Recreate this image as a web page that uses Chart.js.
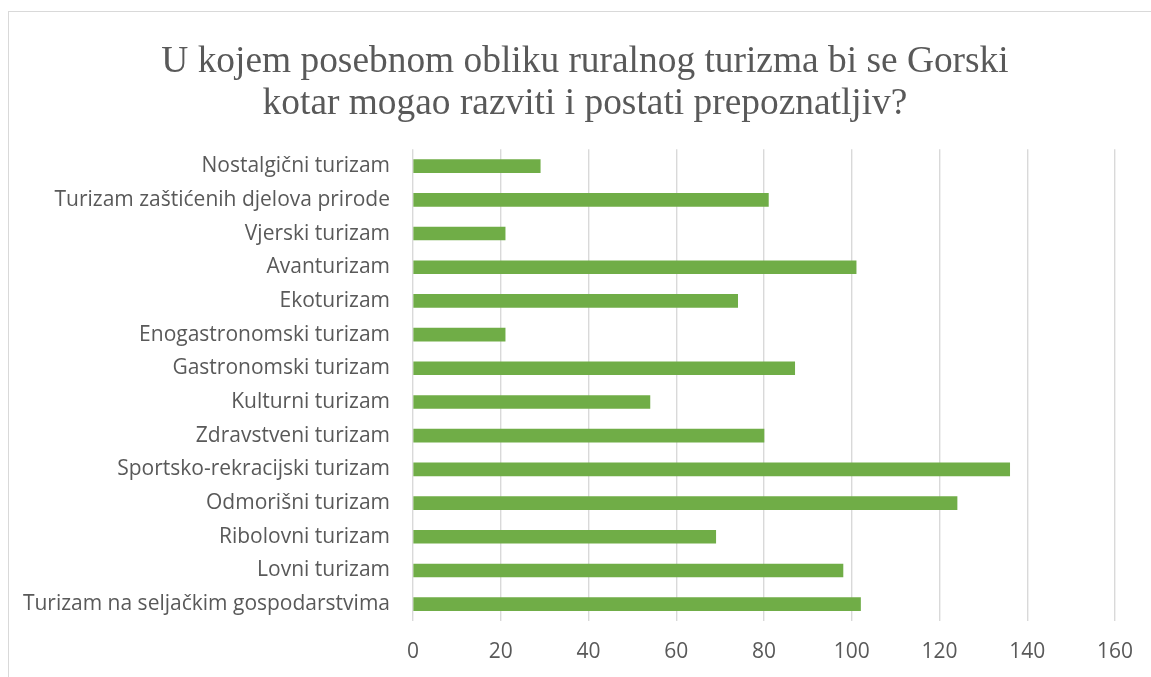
<!DOCTYPE html>
<html>
<head>
<meta charset="utf-8">
<script src="https://cdn.jsdelivr.net/npm/chart.js@4"></script>
<style>
  html, body { margin: 0; padding: 0; background: #fff; }
  #frame {
    position: absolute; left: 8px; top: 11px;
    width: 1200px; height: 700px;
    border: 1px solid #d9d9d9;
  }
  #wrap { position: absolute; left: 0; top: 0; width: 1151px; height: 677px; }
</style>
</head>
<body>
<div id="frame"></div>
<div id="wrap"><canvas id="chart"></canvas></div>
<script>
// ---------------- DATA ----------------
const titleLines = [
  "U kojem posebnom obliku ruralnog turizma bi se Gorski",
  "kotar mogao razviti i postati prepoznatljiv?"
];

const categories = [
  "Nostalgični turizam",
  "Turizam zaštićenih djelova prirode",
  "Vjerski turizam",
  "Avanturizam",
  "Ekoturizam",
  "Enogastronomski turizam",
  "Gastronomski turizam",
  "Kulturni turizam",
  "Zdravstveni turizam",
  "Sportsko-rekracijski turizam",
  "Odmorišni turizam",
  "Ribolovni turizam",
  "Lovni turizam",
  "Turizam na seljačkim gospodarstvima"
];

const counts = [29, 81, 21, 101, 74, 21, 87, 54, 80, 136, 124, 69, 98, 102];

const xTicks = [0, 20, 40, 60, 80, 100, 120, 140, 160];

// ---------------- CHART ----------------
const textGray = "#595959";
const gridGray = "#d9d9d9";
const labelFont = "'Open Sans', 'Noto Sans', sans-serif";

// title sits a bit right of the canvas centre in the original
const shiftTitle = {
  id: "shiftTitle",
  afterLayout(chart) {
    if (chart.titleBlock) chart.titleBlock.left = 54;
  }
};

const ctx = document.getElementById("chart").getContext("2d");
new Chart(ctx, {
  type: "bar",
  data: {
    labels: categories,
    datasets: [{
      data: counts,
      backgroundColor: "#70ad47",
      borderWidth: 0,
      barThickness: 13
    }]
  },
  options: {
    indexAxis: "y",
    responsive: true,
    maintainAspectRatio: false,
    animation: false,
    layout: { padding: { left: 0, right: 35, top: 0, bottom: 0 } },
    plugins: {
      legend: { display: false },
      tooltip: { enabled: false },
      title: {
        display: true,
        text: titleLines,
        color: textGray,
        font: { family: "'Liberation Serif', 'Times New Roman', serif", size: 37.4, weight: "normal", lineHeight: 1.1 },
        padding: { top: 42, bottom: 25 }
      }
    },
    scales: {
      x: {
        min: 0,
        max: 160,
        afterBuildTicks: (axis) => { axis.ticks = xTicks.map(v => ({ value: v })); },
        afterFit: (axis) => { axis.height = 56; },
        grid: { color: gridGray, lineWidth: 1.4, drawTicks: false },
        border: { display: false },
        ticks: {
          color: textGray,
          padding: 18,
          font: { family: labelFont, size: 21 }
        }
      },
      y: {
        afterFit: (axis) => { axis.width = 413; },
        grid: { display: false, drawTicks: false },
        border: { display: false },
        ticks: {
          color: textGray,
          padding: 23,
          autoSkip: false,
          font: { family: labelFont, size: 21 }
        }
      }
    }
  },
  plugins: [shiftTitle]
});
</script>
</body>
</html>
